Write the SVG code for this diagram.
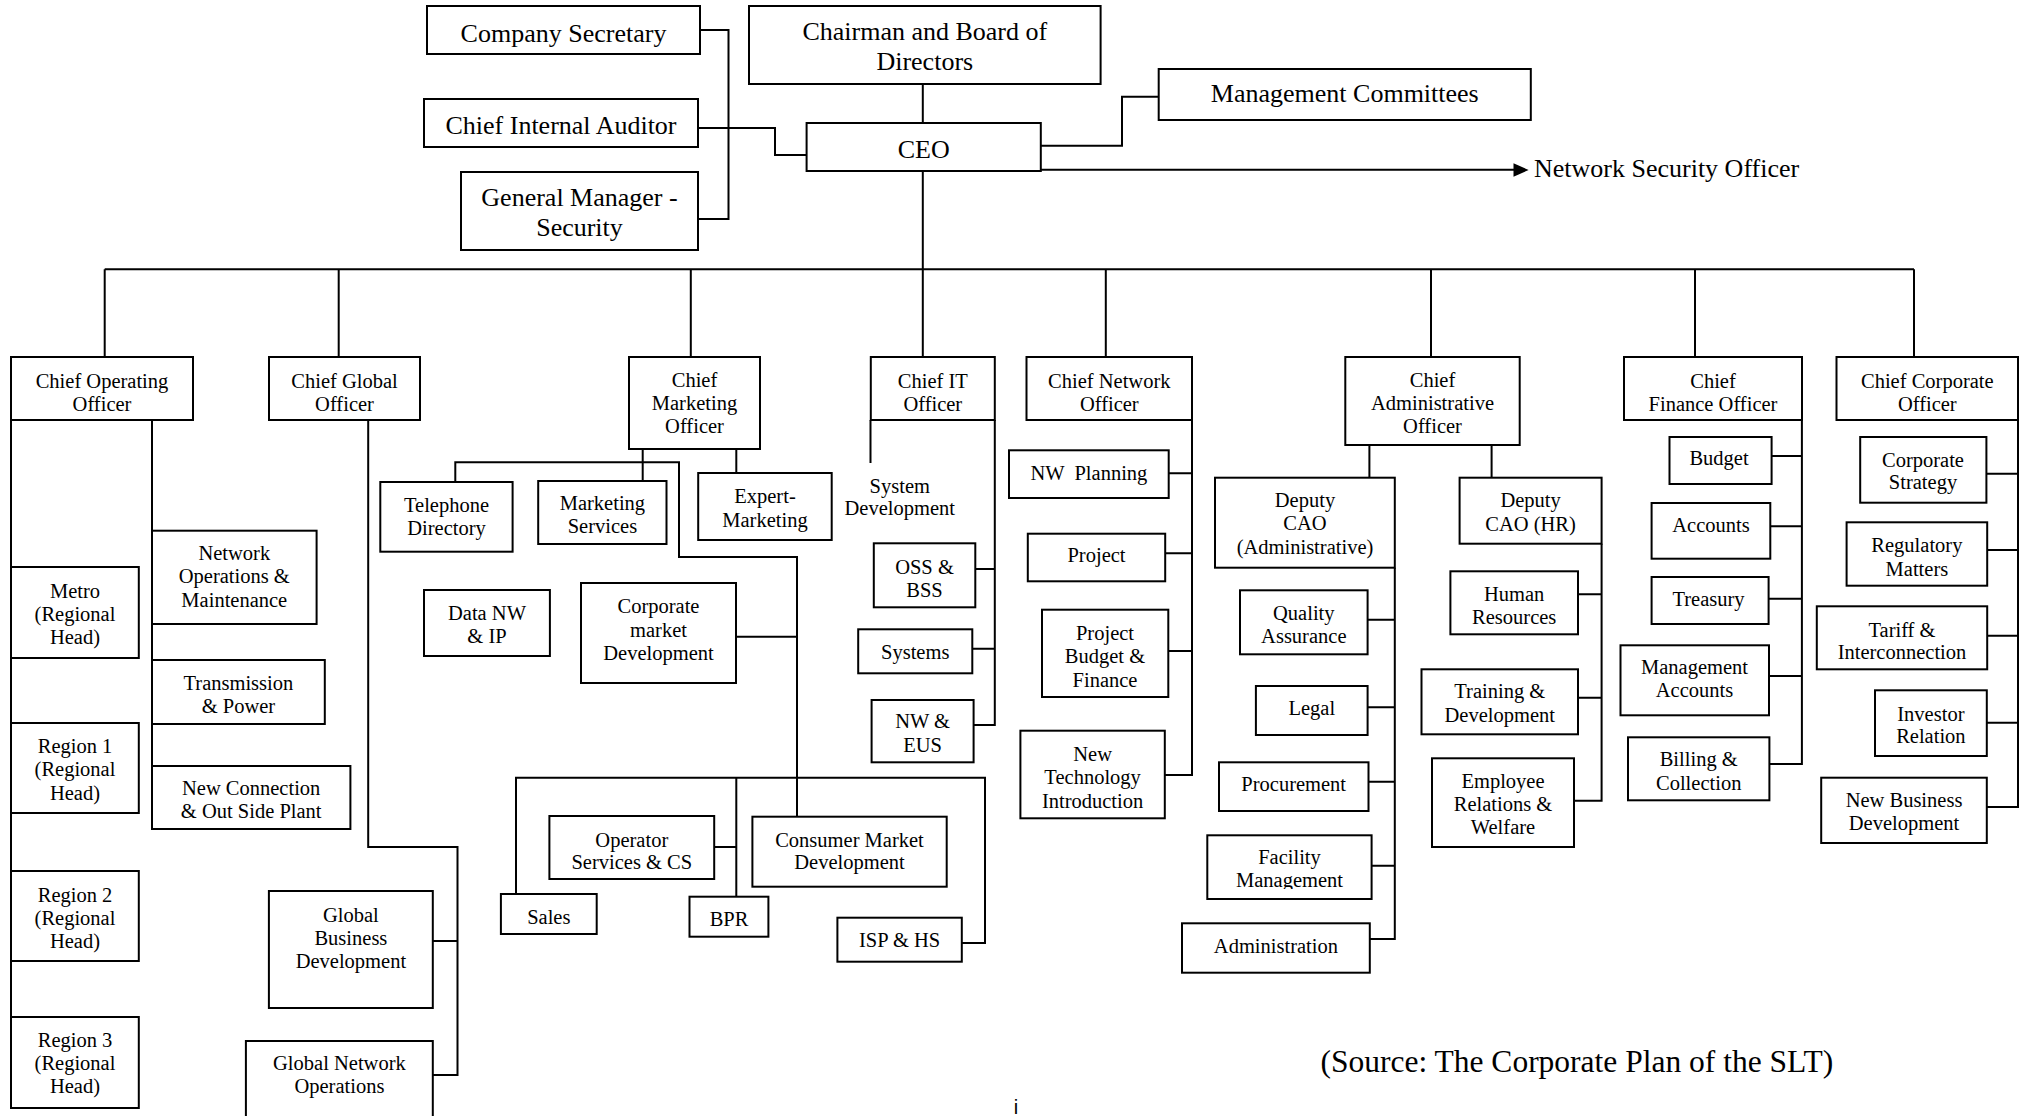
<svg xmlns="http://www.w3.org/2000/svg" width="2027" height="1116" viewBox="0 0 2027 1116">
  <style>
    .box { fill: #fff; stroke: #000; stroke-width: 2; }
    .t { font-family: "Liberation Serif", "Times New Roman", serif; font-size: 20.5px; text-anchor: middle; fill: #000; }
    .tl { font-family: "Liberation Serif", "Times New Roman", serif; font-size: 26px; text-anchor: middle; fill: #000; }
    .wire { fill: none; stroke: #000; stroke-width: 2; }
  </style>
  <defs>
    <clipPath id="facility-clip"><rect x="1207" y="835" width="165" height="54"/></clipPath>
  </defs>
  <rect width="2027" height="1116" fill="#fff"/>

  <!-- connectors -->
  <g id="connectors" class="wire">
    <path d="M700,30 H728.5 V219 H698"/>
    <path d="M698,128 H775 V155 H806.6"/>
    <path d="M922.8,84 V123"/>
    <path d="M1041,145.7 H1122 V96.7 H1158.7"/>
    <path d="M1041,169.7 H1514"/>
    <polygon points="1513.5,163.3 1528.6,170 1513.5,176.7" fill="#000" stroke="none"/>
    <path d="M922.8,171 V269.3"/>
    <path d="M104.7,269.3 H1914"/>
    <path d="M104.7,269.3 V357 M338.7,269.3 V357 M690.8,269.3 V357 M922.8,269.3 V357 M1105.8,269.3 V357 M1431,269.3 V357 M1695,269.3 V357 M1914,269.3 V357"/>
    <!-- operations -->
    <path d="M11,420 V1108"/>
    <path d="M152,420 V766"/>
    <!-- global -->
    <path d="M368.2,420 V847 H457.5 V1075 H432.8 M432.8,941 H457.5"/>
    <!-- marketing -->
    <path d="M642.7,449 V481"/>
    <path d="M455.3,482 V462.3 H679 V557 H797 V816.7"/>
    <path d="M736.3,449 V473"/>
    <path d="M736,636.7 H797"/>
    <path d="M516,894 V777.7 H985 V943 H961.8"/>
    <path d="M736.3,777.7 V896.7 M714.2,847 H736.3"/>
    <!-- IT -->
    <path d="M870.5,420 V463"/>
    <path d="M994.8,420 V725 H973.6 M975.3,569 H994.8 M972.3,648.7 H994.8"/>
    <!-- network -->
    <path d="M1192,420 V775 H1164.8 M1168.7,473.3 H1192 M1165.2,553.3 H1192 M1168.3,651 H1192"/>
    <!-- administration -->
    <path d="M1369.4,445 V477.7 M1491.6,445 V477.7"/>
    <path d="M1394.8,567.7 V939 H1369.8 M1367.6,619.7 H1394.8 M1367.6,707.3 H1394.8 M1368.5,781.7 H1394.8 M1371.6,865.7 H1394.8"/>
    <path d="M1601.6,543.7 V800.7 H1574 M1578,594.3 H1601.6 M1578,697.7 H1601.6"/>
    <!-- finance -->
    <path d="M1801.9,420 V764 H1769.4 M1771.6,456 H1801.9 M1770.3,526.3 H1801.9 M1768.6,598.7 H1801.9 M1769,676 H1801.9"/>
    <!-- corporate -->
    <path d="M2018,420 V807 H1986.8 M1986.4,473.7 H2018 M1987.2,550 H2018 M1987.2,635.7 H2018 M1986.8,722.7 H2018"/>
  </g>

  <!-- board level -->
  <g id="company-secretary"><rect class="box" x="427" y="6" width="273" height="48"/><text class="tl" x="563.5" y="41.7">Company Secretary</text></g>
  <g id="chief-internal-auditor"><rect class="box" x="424" y="99" width="274" height="48"/><text class="tl" x="561" y="134">Chief Internal Auditor</text></g>
  <g id="gm-security"><rect class="box" x="461" y="172" width="237" height="78"/><text class="tl"><tspan x="579.5" y="206">General Manager -</tspan><tspan x="579.5" y="236">Security</tspan></text></g>
  <g id="chairman"><rect class="box" x="749" y="6" width="351.6" height="78"/><text class="tl"><tspan x="924.8" y="40">Chairman and Board of</tspan><tspan x="924.8" y="70">Directors</tspan></text></g>
  <g id="ceo"><rect class="box" x="806.6" y="123" width="234.2" height="48"/><text class="tl" x="923.7" y="158.3">CEO</text></g>
  <g id="management-committees"><rect class="box" x="1158.7" y="69" width="372.1" height="51"/><text class="tl" x="1344.8" y="101.7">Management Committees</text></g>
  <g id="network-security-officer"><text class="tl" x="1534" y="176.7" style="text-anchor:start">Network Security Officer</text></g>

  <!-- chief officers -->
  <g id="coo"><rect class="box" x="11" y="357" width="182" height="63"/><text class="t"><tspan x="102" y="387.5">Chief Operating</tspan><tspan x="102" y="410.5">Officer</tspan></text></g>
  <g id="cgo"><rect class="box" x="269" y="357" width="151" height="63"/><text class="t"><tspan x="344.5" y="387.5">Chief Global</tspan><tspan x="344.5" y="410.5">Officer</tspan></text></g>
  <g id="cmo"><rect class="box" x="629" y="357" width="131" height="92"/><text class="t"><tspan x="694.5" y="387">Chief</tspan><tspan x="694.5" y="410">Marketing</tspan><tspan x="694.5" y="433">Officer</tspan></text></g>
  <g id="cito"><rect class="box" x="870.8" y="357" width="124" height="63"/><text class="t"><tspan x="932.8" y="387.5">Chief IT</tspan><tspan x="932.8" y="410.5">Officer</tspan></text></g>
  <g id="cno"><rect class="box" x="1026.5" y="357" width="165.5" height="63"/><text class="t"><tspan x="1109.3" y="387.5">Chief Network</tspan><tspan x="1109.3" y="410.5">Officer</tspan></text></g>
  <g id="cao"><rect class="box" x="1345.3" y="357" width="174.4" height="88"/><text class="t"><tspan x="1432.5" y="387">Chief</tspan><tspan x="1432.5" y="410">Administrative</tspan><tspan x="1432.5" y="433">Officer</tspan></text></g>
  <g id="cfo"><rect class="box" x="1624" y="357" width="178" height="63"/><text class="t"><tspan x="1713" y="387.5">Chief</tspan><tspan x="1713" y="410.5">Finance Officer</tspan></text></g>
  <g id="cco"><rect class="box" x="1836.5" y="357" width="181.5" height="63"/><text class="t"><tspan x="1927.3" y="387.5">Chief Corporate</tspan><tspan x="1927.3" y="410.5">Officer</tspan></text></g>

  <!-- operations units -->
  <g id="metro"><rect class="box" x="11" y="567" width="127.8" height="91"/><text class="t"><tspan x="75" y="597.7">Metro</tspan><tspan x="75" y="621">(Regional</tspan><tspan x="75" y="644.3">Head)</tspan></text></g>
  <g id="region-1"><rect class="box" x="11" y="723" width="127.8" height="90"/><text class="t"><tspan x="75" y="753">Region 1</tspan><tspan x="75" y="776.3">(Regional</tspan><tspan x="75" y="799.6">Head)</tspan></text></g>
  <g id="region-2"><rect class="box" x="11" y="871" width="127.8" height="90"/><text class="t"><tspan x="75" y="901.7">Region 2</tspan><tspan x="75" y="925">(Regional</tspan><tspan x="75" y="948.3">Head)</tspan></text></g>
  <g id="region-3"><rect class="box" x="11" y="1017" width="127.8" height="91"/><text class="t"><tspan x="75" y="1046.7">Region 3</tspan><tspan x="75" y="1070">(Regional</tspan><tspan x="75" y="1093.3">Head)</tspan></text></g>
  <g id="network-operations"><rect class="box" x="152" y="530.7" width="164.6" height="93.3"/><text class="t"><tspan x="234.3" y="560">Network</tspan><tspan x="234.3" y="583.3">Operations &amp;</tspan><tspan x="234.3" y="606.6">Maintenance</tspan></text></g>
  <g id="transmission"><rect class="box" x="152" y="660" width="172.8" height="64"/><text class="t"><tspan x="238.4" y="690">Transmission</tspan><tspan x="238.4" y="713.3">&amp; Power</tspan></text></g>
  <g id="new-connection"><rect class="box" x="152" y="766" width="198.4" height="63"/><text class="t"><tspan x="251.2" y="795">New Connection</tspan><tspan x="251.2" y="818.3">&amp; Out Side Plant</tspan></text></g>

  <!-- global units -->
  <g id="global-business"><rect class="box" x="268.9" y="891" width="163.9" height="117"/><text class="t"><tspan x="350.9" y="921.7">Global</tspan><tspan x="350.9" y="945">Business</tspan><tspan x="350.9" y="968">Development</tspan></text></g>
  <g id="global-network"><rect class="box" x="245.9" y="1041" width="186.9" height="80"/><text class="t"><tspan x="339.4" y="1070">Global Network</tspan><tspan x="339.4" y="1093.3">Operations</tspan></text></g>

  <!-- marketing units -->
  <g id="telephone-directory"><rect class="box" x="380.3" y="482" width="132.3" height="69.7"/><text class="t"><tspan x="446.5" y="511.7">Telephone</tspan><tspan x="446.5" y="534.5">Directory</tspan></text></g>
  <g id="marketing-services"><rect class="box" x="538.2" y="481" width="128.3" height="63"/><text class="t"><tspan x="602.4" y="510">Marketing</tspan><tspan x="602.4" y="533.3">Services</tspan></text></g>
  <g id="expert-marketing"><rect class="box" x="698.2" y="473" width="133.5" height="67"/><text class="t"><tspan x="765" y="503.3">Expert-</tspan><tspan x="765" y="526.7">Marketing</tspan></text></g>
  <g id="data-nw"><rect class="box" x="424" y="590" width="125.9" height="66"/><text class="t"><tspan x="487" y="620">Data NW</tspan><tspan x="487" y="643.3">&amp; IP</tspan></text></g>
  <g id="corporate-market"><rect class="box" x="581" y="583" width="155" height="100"/><text class="t"><tspan x="658.5" y="613.3">Corporate</tspan><tspan x="658.5" y="636.7">market</tspan><tspan x="658.5" y="660">Development</tspan></text></g>
  <g id="sales"><rect class="box" x="500.9" y="894" width="95.8" height="40"/><text class="t" x="548.8" y="924">Sales</text></g>
  <g id="operator-services"><rect class="box" x="549.4" y="816" width="164.8" height="63"/><text class="t"><tspan x="631.8" y="846.7">Operator</tspan><tspan x="631.8" y="869.3">Services &amp; CS</tspan></text></g>
  <g id="bpr"><rect class="box" x="689.5" y="896.7" width="78.9" height="40"/><text class="t" x="729" y="926">BPR</text></g>
  <g id="consumer-market"><rect class="box" x="752.4" y="816.7" width="194.3" height="70"/><text class="t"><tspan x="849.5" y="846.7">Consumer Market</tspan><tspan x="849.5" y="869">Development</tspan></text></g>
  <g id="isp-hs"><rect class="box" x="837.4" y="917.7" width="124.4" height="44"/><text class="t" x="899.6" y="946.7">ISP &amp; HS</text></g>

  <!-- IT units -->
  <g id="system-development"><text class="t"><tspan x="899.8" y="492.7">System</tspan><tspan x="899.8" y="515">Development</tspan></text></g>
  <g id="oss-bss"><rect class="box" x="873.8" y="543.3" width="101.5" height="64"/><text class="t"><tspan x="924.5" y="574">OSS &amp;</tspan><tspan x="924.5" y="596.7">BSS</tspan></text></g>
  <g id="systems"><rect class="box" x="858.2" y="629.3" width="114.1" height="44"/><text class="t" x="915.2" y="658.7">Systems</text></g>
  <g id="nw-eus"><rect class="box" x="871.6" y="700" width="102" height="62.3"/><text class="t"><tspan x="922.6" y="728.3">NW &amp;</tspan><tspan x="922.6" y="751.7">EUS</tspan></text></g>

  <!-- network units -->
  <g id="nw-planning"><rect class="box" x="1009" y="450.3" width="159.7" height="47.7"/><text class="t" x="1088.9" y="480" xml:space="preserve">NW  Planning</text></g>
  <g id="project"><rect class="box" x="1027.8" y="533.7" width="137.4" height="47.6"/><text class="t" x="1096.5" y="562.3">Project</text></g>
  <g id="project-budget"><rect class="box" x="1042" y="609.7" width="126.3" height="87.3"/><text class="t"><tspan x="1105" y="640">Project</tspan><tspan x="1105" y="663.3">Budget &amp;</tspan><tspan x="1105" y="686.7">Finance</tspan></text></g>
  <g id="new-technology"><rect class="box" x="1020.4" y="730.7" width="144.4" height="87.6"/><text class="t"><tspan x="1092.6" y="760.7">New</tspan><tspan x="1092.6" y="784">Technology</tspan><tspan x="1092.6" y="808.3">Introduction</tspan></text></g>

  <!-- administration units -->
  <g id="deputy-cao-admin"><rect class="box" x="1215" y="477.7" width="179.8" height="90"/><text class="t"><tspan x="1305" y="506.7">Deputy</tspan><tspan x="1305" y="530">CAO</tspan><tspan x="1305" y="553.5">(Administrative)</tspan></text></g>
  <g id="quality-assurance"><rect class="box" x="1240" y="590.3" width="127.6" height="64"/><text class="t"><tspan x="1303.8" y="620">Quality</tspan><tspan x="1303.8" y="643.3">Assurance</tspan></text></g>
  <g id="legal"><rect class="box" x="1255.9" y="686" width="111.7" height="49"/><text class="t" x="1311.8" y="715">Legal</text></g>
  <g id="procurement"><rect class="box" x="1219" y="762.3" width="149.5" height="48.7"/><text class="t" x="1293.7" y="791">Procurement</text></g>
  <g id="facility-management"><rect class="box" x="1207.3" y="835.3" width="164.3" height="63.7"/><text class="t" clip-path="url(#facility-clip)"><tspan x="1289.5" y="864">Facility</tspan><tspan x="1289.5" y="886.7">Management</tspan></text></g>
  <g id="administration"><rect class="box" x="1182" y="923.3" width="187.8" height="49.4"/><text class="t" x="1275.9" y="953.3">Administration</text></g>
  <g id="deputy-cao-hr"><rect class="box" x="1459.6" y="477.7" width="142" height="66"/><text class="t"><tspan x="1530.6" y="506.7">Deputy</tspan><tspan x="1530.6" y="530.7">CAO (HR)</tspan></text></g>
  <g id="human-resources"><rect class="box" x="1450.4" y="571.3" width="127.6" height="63"/><text class="t"><tspan x="1514.2" y="601">Human</tspan><tspan x="1514.2" y="624.3">Resources</tspan></text></g>
  <g id="training"><rect class="box" x="1421.5" y="669.3" width="156.5" height="65"/><text class="t"><tspan x="1499.8" y="698.3">Training &amp;</tspan><tspan x="1499.8" y="721.7">Development</tspan></text></g>
  <g id="employee-relations"><rect class="box" x="1432" y="758.3" width="142" height="88.7"/><text class="t"><tspan x="1503" y="787.7">Employee</tspan><tspan x="1503" y="811">Relations &amp;</tspan><tspan x="1503" y="834.3">Welfare</tspan></text></g>

  <!-- finance units -->
  <g id="budget"><rect class="box" x="1669.5" y="437" width="102.1" height="47"/><text class="t" x="1719" y="465">Budget</text></g>
  <g id="accounts"><rect class="box" x="1651.6" y="503" width="118.7" height="55.7"/><text class="t" x="1711" y="532.3">Accounts</text></g>
  <g id="treasury"><rect class="box" x="1651.6" y="577" width="117" height="47"/><text class="t" x="1708.5" y="606">Treasury</text></g>
  <g id="management-accounts"><rect class="box" x="1620.5" y="645.3" width="148.5" height="70"/><text class="t"><tspan x="1694.5" y="674">Management</tspan><tspan x="1694.5" y="697.3">Accounts</tspan></text></g>
  <g id="billing"><rect class="box" x="1628" y="737.3" width="141.4" height="63"/><text class="t"><tspan x="1698.7" y="766">Billing &amp;</tspan><tspan x="1698.7" y="790">Collection</tspan></text></g>

  <!-- corporate units -->
  <g id="corporate-strategy"><rect class="box" x="1860.2" y="437" width="126.2" height="65.7"/><text class="t"><tspan x="1923" y="466.7">Corporate</tspan><tspan x="1923" y="489">Strategy</tspan></text></g>
  <g id="regulatory"><rect class="box" x="1846.6" y="522.3" width="140.6" height="63.4"/><text class="t"><tspan x="1916.9" y="552.3">Regulatory</tspan><tspan x="1916.9" y="575.7">Matters</tspan></text></g>
  <g id="tariff"><rect class="box" x="1816.8" y="606.3" width="170.4" height="63"/><text class="t"><tspan x="1902" y="636.7">Tariff &amp;</tspan><tspan x="1902" y="659.3">Interconnection</tspan></text></g>
  <g id="investor"><rect class="box" x="1875" y="690.3" width="111.8" height="65.7"/><text class="t"><tspan x="1930.9" y="720.7">Investor</tspan><tspan x="1930.9" y="743.3">Relation</tspan></text></g>
  <g id="new-business"><rect class="box" x="1821.2" y="777.7" width="165.6" height="65.3"/><text class="t"><tspan x="1904" y="806.7">New Business</tspan><tspan x="1904" y="830">Development</tspan></text></g>

  <!-- footer -->
  <text x="1320.5" y="1071.7" style="font-family:'Liberation Serif','Times New Roman',serif;font-size:31.5px;fill:#000">(Source: The Corporate Plan of the SLT)</text>
  <text x="1016" y="1114" style="font-family:'Liberation Sans',Arial,sans-serif;font-size:20px;text-anchor:middle;fill:#000">i</text>
</svg>
